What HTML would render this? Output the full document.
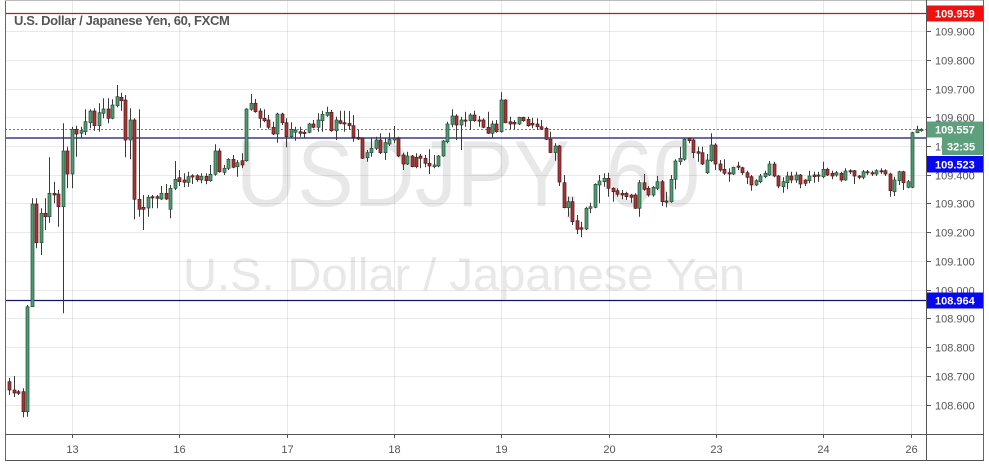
<!DOCTYPE html>
<html><head><meta charset="utf-8">
<style>
html,body{margin:0;padding:0;background:#fff;}
svg{display:block}
</style></head>
<body>
<svg id="c" width="989" height="467" viewBox="0 0 989 467" xmlns="http://www.w3.org/2000/svg" font-family="'Liberation Sans', Arial, sans-serif">
<rect width="989" height="467" fill="#fff"/>
<!-- watermark -->
<text x="236" y="206" font-size="94" fill="#e8e8e8" textLength="464" lengthAdjust="spacingAndGlyphs">USDJPY, 60</text>
<text x="183" y="290" font-size="45" fill="#e8e8e8" textLength="562" lengthAdjust="spacingAndGlyphs">U.S. Dollar / Japanese Yen</text>
<!-- grid -->
<g stroke="rgba(0,0,0,0.085)" stroke-width="1">
<line x1="5" x2="926" y1="31.5" y2="31.5"/>
<line x1="5" x2="926" y1="60.5" y2="60.5"/>
<line x1="5" x2="926" y1="89.5" y2="89.5"/>
<line x1="5" x2="926" y1="117.5" y2="117.5"/>
<line x1="5" x2="926" y1="146.5" y2="146.5"/>
<line x1="5" x2="926" y1="175.5" y2="175.5"/>
<line x1="5" x2="926" y1="203.5" y2="203.5"/>
<line x1="5" x2="926" y1="232.5" y2="232.5"/>
<line x1="5" x2="926" y1="261.5" y2="261.5"/>
<line x1="5" x2="926" y1="290.5" y2="290.5"/>
<line x1="5" x2="926" y1="318.5" y2="318.5"/>
<line x1="5" x2="926" y1="347.5" y2="347.5"/>
<line x1="5" x2="926" y1="376.5" y2="376.5"/>
<line x1="5" x2="926" y1="405.5" y2="405.5"/>
<line x1="72.5" x2="72.5" y1="0" y2="434"/>
<line x1="179.5" x2="179.5" y1="0" y2="434"/>
<line x1="287.5" x2="287.5" y1="0" y2="434"/>
<line x1="394.5" x2="394.5" y1="0" y2="434"/>
<line x1="501.5" x2="501.5" y1="0" y2="434"/>
<line x1="609.5" x2="609.5" y1="0" y2="434"/>
<line x1="716.5" x2="716.5" y1="0" y2="434"/>
<line x1="823.5" x2="823.5" y1="0" y2="434"/>
<line x1="911.5" x2="911.5" y1="0" y2="434"/>
</g>
<!-- horizontal lines -->
<line x1="5" x2="926" y1="13.5" y2="13.5" stroke="#b81a2c" stroke-width="1.2"/>
<line x1="5" x2="926" y1="129.5" y2="129.5" stroke="#5e8c6a" stroke-width="1" stroke-dasharray="2,2"/>
<line x1="5" x2="926" y1="138" y2="138" stroke="#14146e" stroke-width="1.3"/>
<line x1="5" x2="926" y1="300.5" y2="300.5" stroke="#14146e" stroke-width="1.3"/>
<g id="candles"></g>
<!-- title -->
<text x="14" y="25" font-size="13" font-weight="bold" fill="#555" letter-spacing="-0.35">U.S. Dollar / Japanese Yen, 60, FXCM</text>
<!-- frame & axes -->
<rect x="926.5" y="0" width="57" height="434" fill="#fff"/>
<rect x="5" y="435" width="978" height="25.5" fill="#fff"/>
<line x1="5.5" x2="5.5" y1="0" y2="461" stroke="#666"/>
<line x1="5" x2="984" y1="0.5" y2="0.5" stroke="#bbb"/>
<line x1="983.5" x2="983.5" y1="0" y2="461" stroke="#666"/>
<line x1="926.5" x2="926.5" y1="0" y2="461" stroke="#555"/>
<line x1="5" x2="984" y1="434.5" y2="434.5" stroke="#555"/>
<line x1="5" x2="984" y1="460.5" y2="460.5" stroke="#555"/>
<g stroke="#555">
<line x1="927" x2="931" y1="31.5" y2="31.5"/>
<line x1="927" x2="931" y1="60.5" y2="60.5"/>
<line x1="927" x2="931" y1="89.5" y2="89.5"/>
<line x1="927" x2="931" y1="117.5" y2="117.5"/>
<line x1="927" x2="931" y1="146.5" y2="146.5"/>
<line x1="927" x2="931" y1="175.5" y2="175.5"/>
<line x1="927" x2="931" y1="203.5" y2="203.5"/>
<line x1="927" x2="931" y1="232.5" y2="232.5"/>
<line x1="927" x2="931" y1="261.5" y2="261.5"/>
<line x1="927" x2="931" y1="290.5" y2="290.5"/>
<line x1="927" x2="931" y1="318.5" y2="318.5"/>
<line x1="927" x2="931" y1="347.5" y2="347.5"/>
<line x1="927" x2="931" y1="376.5" y2="376.5"/>
<line x1="927" x2="931" y1="405.5" y2="405.5"/>
<line x1="72.5" x2="72.5" y1="435" y2="438"/>
<line x1="179.5" x2="179.5" y1="435" y2="438"/>
<line x1="287.5" x2="287.5" y1="435" y2="438"/>
<line x1="394.5" x2="394.5" y1="435" y2="438"/>
<line x1="501.5" x2="501.5" y1="435" y2="438"/>
<line x1="609.5" x2="609.5" y1="435" y2="438"/>
<line x1="716.5" x2="716.5" y1="435" y2="438"/>
<line x1="823.5" x2="823.5" y1="435" y2="438"/>
<line x1="911.5" x2="911.5" y1="435" y2="438"/>
</g>
<g font-size="11" fill="#555">
<text x="935" y="35.5">109.900</text>
<text x="935" y="64.5">109.800</text>
<text x="935" y="93.5">109.700</text>
<text x="935" y="121.5">109.600</text>
<text x="935" y="150.5">109.500</text>
<text x="935" y="179.5">109.400</text>
<text x="935" y="207.5">109.300</text>
<text x="935" y="236.5">109.200</text>
<text x="935" y="265.5">109.100</text>
<text x="935" y="294.5">109.000</text>
<text x="935" y="322.5">108.900</text>
<text x="935" y="351.5">108.800</text>
<text x="935" y="380.5">108.700</text>
<text x="935" y="409.5">108.600</text>
</g>
<g font-size="11" fill="#555" text-anchor="middle">
<text x="72.5" y="453">13</text>
<text x="179.5" y="453">16</text>
<text x="287.5" y="453">17</text>
<text x="394.5" y="453">18</text>
<text x="501.5" y="453">19</text>
<text x="609.5" y="453">20</text>
<text x="716.5" y="453">23</text>
<text x="823.5" y="453">24</text>
<text x="911.5" y="453">26</text>
</g>
<!-- price labels -->
<rect x="927" y="5.5" width="56" height="16" fill="#f01010"/>
<text x="935" y="17.5" font-size="11" font-weight="bold" fill="#fff">109.959</text>
<rect x="927" y="121.5" width="56" height="16" fill="#5e9f7d"/>
<text x="935" y="133.5" font-size="11" font-weight="bold" fill="#fff">109.557</text>
<rect x="942" y="137.5" width="41" height="17.5" fill="#5e9f7d"/>
<text x="947" y="150.5" font-size="11" font-weight="bold" fill="#fff">32:35</text>
<rect x="927" y="156" width="56" height="16.5" fill="#0808ee"/>
<text x="935" y="168.5" font-size="11" font-weight="bold" fill="#fff">109.523</text>
<rect x="927" y="292.5" width="56" height="16" fill="#0808ee"/>
<text x="935" y="304.5" font-size="11" font-weight="bold" fill="#fff">108.964</text>
</svg>
<script>
const D=[
[-14,'r',378,381.7,390,395],[-13,'r',376,390,393,397],[-12,'r',390,391.7,393.3,395],[-11,'r',388.3,391.7,411.7,417.3],
[-10,'g',305,306.7,411.7,416.7],[-9,'g',198.3,204,306.7,306.7],[-8,'r',198.3,204,242.7,248.3],[-7,'g',208.3,213.3,242.7,255],
[-6,'r',198.3,213.3,216.7,230],[-5,'g',157.3,193.3,216.7,222.7],[-4,'r',181.7,193.3,195,203.3],[-3,'r',190,194,206.7,226.7],
[-2,'g',123.3,151,206.7,313.3],[-1,'r',146.7,151,174,188.3],[0,'g',126.7,129.3,174,188.3],[1,'r',125.7,129.3,134,156.7],
[2,'g',126.7,130.7,133.3,138.3],[3,'g',109.3,121.7,131.7,135],[4,'g',109.3,111,122.7,128.3],[5,'r',108.3,111,125.7,130.7],
[6,'g',103.3,112.7,125.7,131.7],[7,'g',98.3,109,113.3,118.3],[8,'r',98.3,109,118.3,123.3],[9,'g',99.3,105,118.3,119.3],
[10,'g',85,96.7,105.7,107.3],[11,'r',92.7,97.3,100.7,110.7],[12,'r',95,100,140,157.3],[13,'g',108.3,120,140,159.3],
[14,'r',118.3,120,199.3,219.3],[15,'r',109.3,199.3,209.3,216.7],[16,'r',195,207.3,209.3,230],[17,'g',195,197.3,208,216.7],
[18,'r',195,196.7,198,208.3],[19,'r',195,196.7,198.3,208.3],[20,'g',186,193.3,199,200],[21,'r',184,193.3,199,200],
[22,'g',185,188.3,209.3,218.3],[23,'g',161,179.3,188.3,190],[24,'r',170,177.7,181.7,186],[25,'r',173.3,180,182.3,187.3],
[26,'g',171.7,176.7,182.3,186.7],[27,'r',174.3,175.7,177,184],[28,'r',174.3,175.7,179.7,181.7],[29,'g',173.3,176.3,180,183.3],
[30,'r',173.3,176.3,180.7,184.3],[31,'g',165,174.3,180.7,181.7],[32,'g',144.3,151,174.3,175.7],[33,'r',148.3,151,171.7,172.7],
[34,'g',165,168.3,172.3,175],[35,'g',158.3,159.3,168.3,170],[36,'r',155,159.3,167.3,168.3],[37,'g',160,162.7,166.7,176.7],
[38,'r',153.3,160.7,165,168.3],[39,'g',108.3,109,160.7,161.7],[40,'g',94,103.3,109.3,110.7],[41,'r',99,103.3,111.7,112.7],
[42,'r',108.3,111,118.3,127.7],[43,'r',109.3,118.3,120.7,122.3],[44,'r',115,120,127.3,129.3],[45,'r',121.7,127.3,134,135],
[46,'g',112.7,114,134,142.7],[47,'r',112.7,114,122.7,125],[48,'r',118.3,122.7,136.7,147.3],[49,'g',122.3,129.3,136.7,138.3],
[50,'g',126.7,130,132.3,140.7],[51,'r',126.7,131.7,133.3,136.7],[52,'r',130,132.3,133.3,138.3],[53,'g',122.7,124,132.3,133.3],
[54,'r',120,124,127.3,128.3],[55,'g',113.3,120,127.3,131.7],[56,'g',110.7,114.3,120.7,131.7],[57,'g',106.7,112.3,115.3,116.7],
[58,'r',110,112.3,130.7,131.7],[59,'g',116.7,120,130.7,140],[60,'r',110.7,120.7,123.3,124.3],[61,'r',110.7,122.7,124,131.7],
[62,'r',111,123.3,125.7,130],[63,'r',115,125.7,137.3,141.7],[64,'r',130,137.3,139,140],[65,'r',137.3,138.3,158.3,159],
[66,'g',150,152.7,157.7,161.7],[67,'g',138.3,148.3,152.7,156.7],[68,'g',136.7,140,148.3,150],[69,'r',133.3,140,152.7,154],
[70,'g',138.3,142.7,152.7,160],[71,'g',132.7,139.3,144,146],[72,'g',126,138.3,140,143.3],[73,'r',136.7,138.3,156,157.3],
[74,'r',152.7,155,164,170],[75,'g',151.7,156,164,165],[76,'r',155,156,166.7,167.3],[77,'r',153.3,157.3,166.7,168.3],
[78,'r',154,156,158.3,168.3],[79,'r',155,158.3,163.3,167.3],[80,'r',149.3,163.3,166,174],[81,'g',155,165,166.7,168.3],
[82,'g',155,156,166,167.3],[83,'g',140,141,156,156.7],[84,'g',121.7,124,141.7,143.3],[85,'g',109.3,116,124.3,127.3],
[86,'r',114.3,116,125,140],[87,'g',116.7,120,125,150],[88,'r',111.7,120,120.7,126.7],[89,'g',113.3,115,120.7,130],
[90,'r',110.7,115,120.7,121.7],[91,'r',116,120,120.7,126.7],[92,'r',118.3,120,127.3,128.3],[93,'r',111.7,127.3,133.3,134],
[94,'g',120.7,124,133.3,138.3],[95,'r',120,124,131.7,132.7],[96,'g',92.3,100,131.7,132.7],[97,'r',99.3,100,122.7,123.3],
[98,'r',116.7,121.7,124,129.3],[99,'r',120,122.3,124,129.3],[100,'g',116.7,117.3,124,125],[101,'r',116.7,117.3,120.7,121.7],
[102,'r',116.7,119.3,125.7,126.7],[103,'r',117.7,123.3,125,128.3],[104,'r',118.3,124,126.7,130],[105,'r',120,126.7,129.3,130],
[106,'r',126.7,128.3,139.3,140],[107,'r',131.7,139.3,152.5,153.3],[108,'g',143.3,146,152.5,160.7],[109,'r',145,146,182,186],
[110,'r',175,182.7,207.7,208.3],[111,'g',196.7,201.7,207.7,216.7],[112,'r',197.3,201.7,221.7,225],[113,'r',215,220.7,229.3,234],
[114,'r',221.7,227.7,229.3,237.3],[115,'g',206.7,208.3,229,230],[116,'g',202.7,206.7,208.3,213.3],[117,'g',183.3,184.3,207.3,208.3],
[118,'g',175,181,185,203.3],[119,'g',173.3,178.3,181.7,186.7],[120,'r',172.7,178.3,188.3,196.7],[121,'r',187.3,188.3,191.7,201.7],
[122,'r',188.3,190.7,194.3,196.7],[123,'r',190,193.3,195,199.3],[124,'r',191.7,193.3,196.7,200],[125,'r',194,195,197.3,202.7],
[126,'r',193.3,195,208.3,209],[127,'g',180,182.7,208.3,216.7],[128,'r',174,182.7,189.3,190.7],[129,'r',186,188.3,195,196.7],
[130,'g',186,187.3,195,196.7],[131,'g',176,181.7,188.3,190],[132,'r',180,181.7,201.7,206],[133,'r',191.7,201,201.7,207.3],
[134,'g',175,179.3,201.7,202.7],[135,'g',159.3,161,179.3,189.3],[136,'g',146.7,158.3,161.7,165],[137,'g',137.7,139.3,159.3,160.7],
[138,'r',137.3,138.3,140.7,143.3],[139,'r',137.7,140,152.7,158.3],[140,'r',146.7,151.7,153.3,161.7],[141,'r',146.7,152.7,164,165],
[142,'g',154,160,172.7,174],[143,'g',133.3,145,160.7,161.7],[144,'r',143.3,145,164,170],[145,'r',160,164,170,171.7],
[146,'r',159.3,169.3,173.3,175],[147,'r',168.3,172.7,174,181.7],[148,'g',166.7,167.3,174,175],[149,'r',161.7,166,167.3,170],
[150,'r',166.7,167.7,172.7,175],[151,'r',170.7,172.7,177.3,184],[152,'r',175,176.7,185,190.7],[153,'g',179.3,180.7,185,186],
[154,'g',174,176,181.7,183.3],[155,'g',170.7,173.3,176.7,178.3],[156,'g',161,164,175,176],[157,'r',161.7,164,176,177.3],
[158,'r',175,176,186,188.3],[159,'g',177.3,181.7,186.7,192.7],[160,'g',171.7,176,182.7,189.3],[161,'r',171.7,176,180,183.3],
[162,'g',171.7,175,180,182.7],[163,'r',174,175,184,188.3],[164,'r',179.3,180,183.3,186],[165,'g',170.7,176,180.7,183.3],
[166,'r',171.7,175,176.7,182.7],[167,'r',171.7,175,176,181.7],[168,'g',161.7,169.3,176.7,178.3],[169,'r',167.7,169.3,175,176],
[170,'r',170.7,173.3,176,179.3],[171,'g',171,172.7,175,176.7],[172,'r',171.7,173.3,180,181.7],[173,'g',168.3,171,180,180.7],
[174,'r',169.3,170.7,171.7,174],[175,'r',170,170.7,176,184],[176,'r',175,176,177.3,179.3],[177,'g',170,171.7,177.3,179.3],
[178,'r',170,171.7,172.7,175],[179,'r',170.7,172.7,174,176],[180,'g',169.3,170.7,174,176],[181,'r',168.3,170.7,171.7,174],
[182,'r',169.3,170.7,174,176],[183,'r',172.7,174,190.7,196.7],[184,'g',176.7,180,191.7,196],[185,'g',170.7,171.7,180.7,185],
[186,'r',170.7,171.7,182.7,190],[187,'g',180,181.7,187.3,188.3],[188,'g',131.7,132.7,187.3,188.3],[189,'g',125.7,129.3,132.7,133.3],
[190,'g',128.3,129.3,130.7,131.7]
];
let s='';
for(const [k,t,h,a,b,l] of D){
  const p=Math.round(71.8+4.47*k);
  const fill=t==='g'?'#4f9a72':'#a83434';
  const st=t==='g'?'#234d37':'#4d1b1b';
  s+='<line x1="'+(p+0.5)+'" x2="'+(p+0.5)+'" y1="'+h+'" y2="'+l+'" stroke="#3a3a3a" stroke-width="1"/>';
  const bh=Math.max(b-a,1.2);
  s+='<rect x="'+(p-1)+'" y="'+a+'" width="3" height="'+bh.toFixed(1)+'" fill="'+fill+'" stroke="'+st+'" stroke-width="0.7"/>';
}
document.getElementById('candles').innerHTML=s;
</script>
</body></html>
